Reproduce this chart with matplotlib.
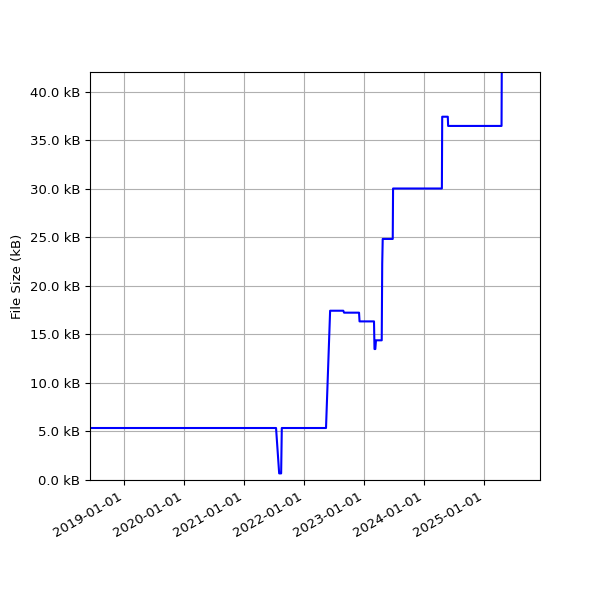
import matplotlib
matplotlib.use("Agg")
import matplotlib.pyplot as plt
import matplotlib.dates as mdates
from matplotlib.ticker import FuncFormatter
import pandas as pd

plt.rcParams["font.size"] = 9.5

dates = pd.to_datetime([
    "2018-05-01", "2021-07-14", "2021-08-02", "2021-08-14", "2021-08-18",
    "2022-05-14", "2022-06-08", "2022-08-27", "2022-09-01", "2022-12-01",
    "2022-12-04", "2023-03-02", "2023-03-05", "2023-03-10", "2023-03-14",
    "2023-04-18", "2023-04-21", "2023-04-24", "2023-06-24", "2023-06-26",
    "2024-04-18", "2024-04-20", "2024-05-24", "2024-05-26", "2025-04-16",
    "2025-04-18",
])
sizes_kb = [
    5.36, 5.36, 0.68, 0.68, 5.36,
    5.36, 17.45, 17.45, 17.25, 17.25,
    16.35, 16.35, 13.5, 13.5, 14.4,
    14.4, 22.3, 24.85, 24.85, 30.05,
    30.05, 37.45, 37.45, 36.5, 36.5,
    45.0,
]

fig = plt.figure(figsize=(6, 6), dpi=100)
ax = fig.add_axes([0.15, 0.2, 0.75, 0.68])
ax.plot(dates, sizes_kb, color="blue", linewidth=1.5)
ax.set_xlim(pd.Timestamp("2018-06-08"), pd.Timestamp("2025-12-06"))
ax.set_ylim(0, 42.06)
ax.set_ylabel("File Size (kB)")
ax.yaxis.set_major_formatter(FuncFormatter(lambda v, p: f"{v:.1f} kB"))
ax.xaxis.set_major_locator(mdates.YearLocator())
ax.xaxis.set_major_formatter(mdates.DateFormatter("%Y-%m-%d"))
for lbl in ax.get_xticklabels():
    lbl.set_rotation(30)
    lbl.set_ha("right")
ax.grid(True)
fig.savefig("out.png", dpi=100)
